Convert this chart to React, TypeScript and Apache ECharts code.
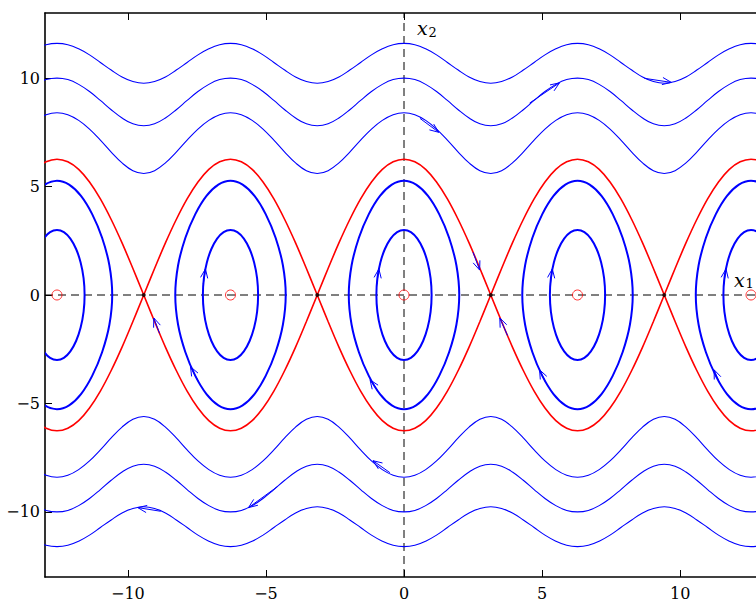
import React, { useEffect, useRef } from "react";
import * as echarts from "echarts";

// Phase portrait of the pendulum x1' = x2, x2' = -g sin(x1)

const X_MIN = -13;
const X_MAX = 13;
const Y_MIN = -13;
const Y_MAX = 13;
const TICKS = [-10, -5, 0, 5, 10];
const PERIOD = 6.283;

// Half-period profile: offsets from a crest (0) to the next trough (π)
const PROFILE_OFFSETS = [0, 0.393, 0.785, 1.178, 1.571, 1.963, 2.356, 2.749, 3.142];
const ROTATION_OUTER = [11.6, 11.54, 11.35, 11.07, 10.72, 10.37, 10.05, 9.84, 9.76];
const ROTATION_MIDDLE = [10.0, 9.93, 9.71, 9.38, 8.97, 8.54, 8.16, 7.89, 7.8];
const ROTATION_INNER = [8.4, 8.31, 8.05, 7.65, 7.14, 6.59, 6.09, 5.73, 5.6];
const SEPARATRIX = [6.26, 6.14, 5.79, 5.21, 4.43, 3.48, 2.4, 1.22, 0];

// Closed orbits: quarter arc from the top point to the right-most point (offsets from the centre)
const ORBIT_SMALL_X = [0, 0.249, 0.484, 0.692, 0.856, 0.963, 1.0];
const ORBIT_SMALL_Y = [3.0, 2.9, 2.6, 2.12, 1.5, 0.78, 0];
const ORBIT_LARGE_X = [0, 0.439, 0.869, 1.274, 1.633, 1.899, 2.0];
const ORBIT_LARGE_Y = [5.27, 5.09, 4.57, 3.73, 2.64, 1.36, 0];

const CENTERS = [-12.566, -6.283, 0, 6.283, 12.566];
const SADDLES = [-9.425, -3.142, 3.142, 9.425];

// Direction arrows: [head x1, head x2, tail x1, tail x2]
const ARROWS = [
  [1.26, 7.5, 0.58, 8.14],
  [5.63, 9.78, 4.55, 8.85],
  [9.68, 9.8, 8.7, 9.99],
  [-1.12, -7.64, -0.51, -8.19],
  [-5.63, -9.8, -4.58, -8.83],
  [-9.64, -9.8, -8.81, -9.97],
  [-7.19, 1.2, -7.27, 0.5],
  [-0.91, 1.2, -0.985, 0.5],
  [5.37, 1.2, 5.3, 0.5],
  [11.66, 1.2, 11.58, 0.5],
  [-7.73, -3.31, -7.44, -4.0],
  [-1.23, -3.91, -0.91, -4.5],
  [4.91, -3.45, 5.12, -4.0],
  [11.23, -3.45, 11.41, -4.0],
  [-9.06, -1.06, -8.85, -1.77],
  [2.74, 1.15, 2.5, 1.97],
  [3.47, -1.06, 3.75, -1.87],
];

// Axis name positions (x1, x2) with their subscripts
const AXIS_NAMES = [
  [0.47, 12.3],
  [11.95, 0.7],
];
const AXIS_NAME_SUBS = ["2", "1"];

const BLUE = "#0000ff";
const RED = "#ff0000";
const SERIF = '"DejaVu Serif", "Liberation Serif", serif';

// Repeat the half-period profile across the whole x1 range
function tileProfile(values: number[], sign: number): number[][] {
  const pts: number[][] = [];
  const last = PROFILE_OFFSETS.length - 1;
  for (let k = -2; k <= 2; k++) {
    const c = k * PERIOD;
    for (let i = last; i >= 0; i--) {
      if (k > -2 && i === last) continue;
      pts.push([c - PROFILE_OFFSETS[i], sign * values[i]]);
    }
    for (let i = 1; i <= last; i++) pts.push([c + PROFILE_OFFSETS[i], sign * values[i]]);
  }
  return pts;
}

function arch(center: number, sign: number): number[][] {
  const pts: number[][] = [];
  const last = PROFILE_OFFSETS.length - 1;
  for (let i = last; i >= 0; i--) pts.push([center - PROFILE_OFFSETS[i], sign * SEPARATRIX[i]]);
  for (let i = 1; i <= last; i++) pts.push([center + PROFILE_OFFSETS[i], sign * SEPARATRIX[i]]);
  return pts;
}

function orbitLoop(xs: number[], ys: number[]): number[][] {
  const n = xs.length;
  const pts: number[][] = [];
  for (let i = 0; i < n; i++) pts.push([xs[i], ys[i]]);
  for (let i = n - 2; i >= 0; i--) pts.push([xs[i], -ys[i]]);
  for (let i = 1; i < n; i++) pts.push([-xs[i], -ys[i]]);
  for (let i = n - 2; i >= 1; i--) pts.push([-xs[i], ys[i]]);
  return pts;
}

const fmt = (v: number) => (v < 0 ? "\u2212" + Math.abs(v) : String(v));

export default function App() {
  const ref = useRef<HTMLDivElement>(null);

  useEffect(() => {
    if (!ref.current) return;
    const chart = echarts.init(ref.current, undefined, { renderer: "svg" });

    const series: any[] = [];

    // dashed coordinate axes
    series.push({
      type: "line",
      data: [[0, Y_MIN], [0, Y_MAX]],
      symbol: "none",
      lineStyle: { color: "#000", width: 1, type: [8, 5] },
      z: 1,
      silent: true,
    });
    series.push({
      type: "line",
      data: [[X_MIN, 0], [X_MAX, 0]],
      symbol: "none",
      lineStyle: { color: "#000", width: 1, type: [8, 5] },
      z: 1,
      silent: true,
    });

    // rotating trajectories
    [ROTATION_OUTER, ROTATION_MIDDLE, ROTATION_INNER].forEach((vals) => {
      [1, -1].forEach((s) => {
        series.push({
          type: "line",
          data: tileProfile(vals, s),
          symbol: "none",
          smooth: 0.4,
          clip: true,
          lineStyle: { color: BLUE, width: 1.1 },
          z: 2,
          silent: true,
        });
      });
    });

    // separatrices
    CENTERS.forEach((c) => {
      [1, -1].forEach((s) => {
        series.push({
          type: "line",
          data: arch(c, s),
          symbol: "none",
          smooth: 0.4,
          clip: true,
          lineStyle: { color: RED, width: 1.6 },
          z: 2,
          silent: true,
        });
      });
    });

    // closed orbits around each stable equilibrium
    const loops: number[][][] = [orbitLoop(ORBIT_SMALL_X, ORBIT_SMALL_Y), orbitLoop(ORBIT_LARGE_X, ORBIT_LARGE_Y)];
    series.push({
      type: "custom",
      clip: true,
      silent: true,
      z: 2,
      data: CENTERS.flatMap((c) => loops.map((_, li) => [c, li])),
      renderItem: (params: any, api: any) => {
        const c = api.value(0);
        const loop = loops[api.value(1)];
        const points = loop.map((p) => api.coord([c + p[0], p[1]]));
        return {
          type: "polygon",
          shape: { points, smooth: 0.4 },
          style: { fill: "none", stroke: BLUE, lineWidth: 2 },
        };
      },
    });

    // direction arrows
    series.push({
      type: "custom",
      clip: true,
      silent: true,
      z: 3,
      data: ARROWS,
      renderItem: (params: any, api: any) => {
        const head = api.coord([api.value(0), api.value(1)]);
        const tail = api.coord([api.value(2), api.value(3)]);
        const dx = head[0] - tail[0];
        const dy = head[1] - tail[1];
        const len = Math.hypot(dx, dy) || 1;
        const ux = dx / len;
        const uy = dy / len;
        const L = 9;
        const W = 3.6;
        const left = [head[0] - ux * L - uy * W, head[1] - uy * L + ux * W];
        const right = [head[0] - ux * L + uy * W, head[1] - uy * L - ux * W];
        const style = { stroke: BLUE, lineWidth: 1, fill: "none" };
        return {
          type: "group",
          children: [
            { type: "polyline", shape: { points: [tail, head] }, style },
            { type: "polyline", shape: { points: [left, head, right] }, style },
          ],
        };
      },
    });

    // equilibria
    series.push({
      type: "scatter",
      data: CENTERS.map((c) => [c, 0]),
      symbol: "circle",
      symbolSize: 10,
      itemStyle: { color: "rgba(0,0,0,0)", borderColor: RED, borderWidth: 1 },
      z: 4,
      silent: true,
    });
    series.push({
      type: "scatter",
      data: SADDLES.map((c) => [c, 0]),
      symbol: "circle",
      symbolSize: 4,
      itemStyle: { color: "#000" },
      z: 4,
      silent: true,
    });

    // axis names x1, x2
    series.push({
      type: "custom",
      silent: true,
      z: 5,
      data: AXIS_NAMES,
      renderItem: (params: any, api: any) => {
        const p = api.coord([api.value(0), api.value(1)]);
        return {
          type: "group",
          children: [
            {
              type: "text",
              x: p[0],
              y: p[1],
              style: {
                text: "x",
                fontFamily: SERIF,
                fontStyle: "italic",
                fontSize: 19,
                fill: "#000",
                align: "left",
                verticalAlign: "middle",
              },
            },
            {
              type: "text",
              x: p[0] + 11.5,
              y: p[1] + 4,
              style: {
                text: AXIS_NAME_SUBS[params.dataIndex],
                fontFamily: SERIF,
                fontSize: 13,
                fill: "#000",
                align: "left",
                verticalAlign: "middle",
              },
            },
          ],
        };
      },
    });

    const axisLabel = {
      customValues: TICKS,
      formatter: fmt,
      fontFamily: SERIF,
      fontSize: 16,
      color: "#000",
    };

    chart.setOption({
      animation: false,
      backgroundColor: "#fff",
      grid: { left: 45, top: 13, width: 718, height: 564 },
      xAxis: [
        {
          type: "value",
          min: X_MIN,
          max: X_MAX,
          position: "bottom",
          axisLine: { show: true, onZero: false, lineStyle: { color: "#000", width: 1.6 } },
          axisTick: { show: true, inside: true, length: 7, customValues: TICKS, lineStyle: { color: "#000", width: 1 } },
          axisLabel: { ...axisLabel, margin: 8 },
          splitLine: { show: false },
        },
        {
          type: "value",
          min: X_MIN,
          max: X_MAX,
          position: "top",
          axisLine: { show: true, onZero: false, lineStyle: { color: "#000", width: 1.6 } },
          axisTick: { show: true, inside: true, length: 7, customValues: TICKS, lineStyle: { color: "#000", width: 1 } },
          axisLabel: { show: false },
          splitLine: { show: false },
        },
      ],
      yAxis: {
        type: "value",
        min: Y_MIN,
        max: Y_MAX,
        position: "left",
        axisLine: { show: true, onZero: false, lineStyle: { color: "#000", width: 1.6 } },
        axisTick: { show: true, inside: true, length: 7, customValues: TICKS, lineStyle: { color: "#000", width: 1 } },
        axisLabel: { ...axisLabel, margin: 5 },
        splitLine: { show: false },
      },
      series,
    });

    return () => chart.dispose();
  }, []);

  return (
    <div style={{ position: "fixed", left: 0, top: 0, width: 756, height: 603, overflow: "hidden", background: "#fff" }}>
      <div ref={ref} style={{ width: 780, height: 603 }} />
    </div>
  );
}
